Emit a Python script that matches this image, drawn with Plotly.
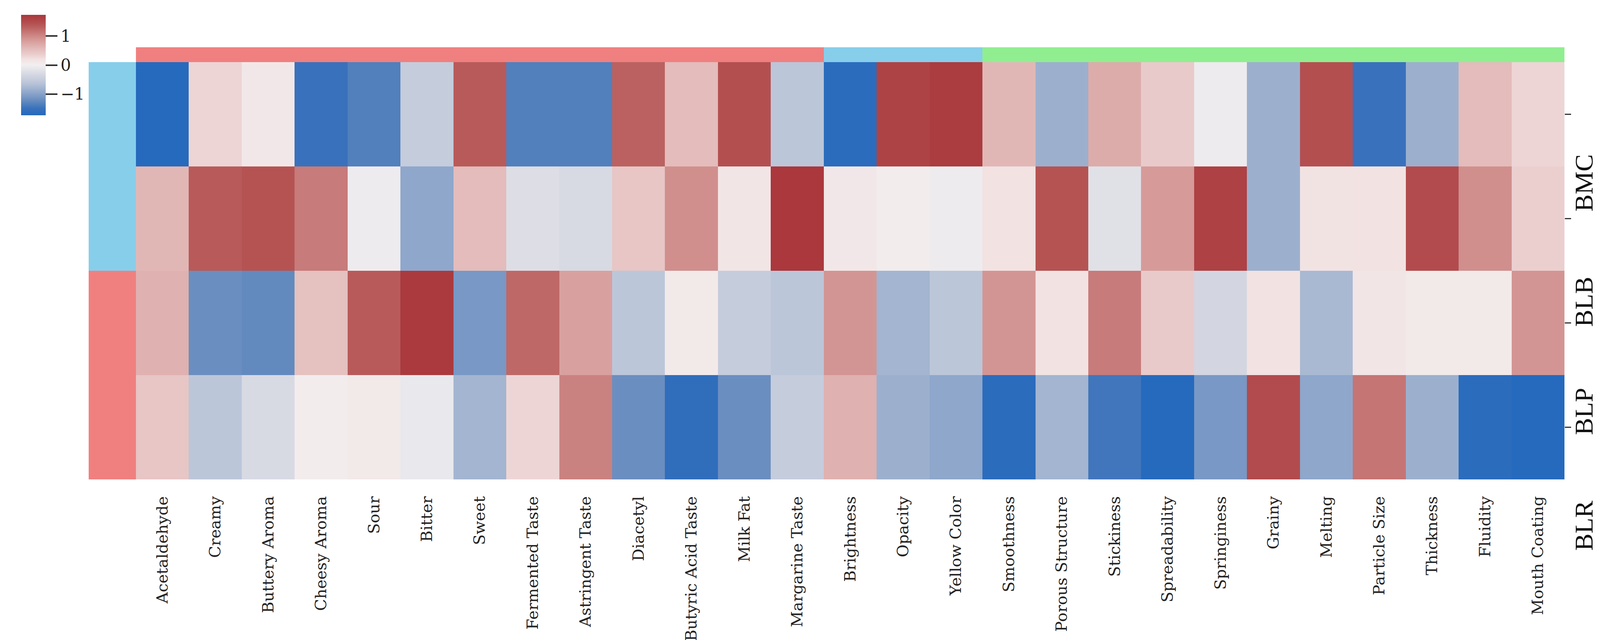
import plotly.graph_objects as go

# ---------------- data ----------------
rows = ["BMC", "BLB", "BLP", "BLR"]
attributes = ["Acetaldehyde", "Creamy", "Buttery Aroma", "Cheesy Aroma", "Sour", "Bitter",
              "Sweet", "Fermented Taste", "Astringent Taste", "Diacetyl", "Butyric Acid Taste",
              "Milk Fat", "Margarine Taste", "Brightness", "Opacity", "Yellow Color",
              "Smoothness", "Porous Structure", "Stickiness", "Spreadability", "Springiness",
              "Grainy", "Melting", "Particle Size", "Thickness", "Fluidity", "Mouth Coating"]

row1 = [-1.70, 0.30, 0.12, -1.50, -1.35, -0.50, 1.35, -1.35, -1.35, 1.30, 0.55, 1.45, -0.60,
        -1.65, 1.60, 1.68, 0.60, -0.85, 0.70, 0.40, -0.05, -0.85, 1.45, -1.50, -0.85, 0.55, 0.30]
row2 = [0.60, 1.35, 1.42, 1.10, -0.05, -0.95, 0.55, -0.25, -0.30, 0.45, 0.95, 0.15, 1.72,
        0.12, 0.05, -0.05, 0.20, 1.42, -0.20, 0.85, 1.62, -0.85, 0.18, 0.20, 1.50, 0.95, 0.35]
row3 = [0.65, -1.20, -1.25, 0.50, 1.35, 1.70, -1.10, 1.25, 0.80, -0.60, 0.10, -0.50, -0.60,
        0.90, -0.80, -0.60, 0.90, 0.20, 1.10, 0.40, -0.35, 0.20, -0.75, 0.15, 0.10, 0.10, 0.90]
row4 = [0.45, -0.60, -0.30, 0.05, 0.10, -0.10, -0.80, 0.30, 1.05, -1.20, -1.60, -1.20, -0.50,
        0.65, -0.85, -0.95, -1.65, -0.80, -1.45, -1.70, -1.10, 1.50, -0.95, 1.15, -0.85, -1.65, -1.70]
values = [row1, row2, row3, row4]

row_group = [1, 1, 0, 0]                       # 1 = sky blue group, 0 = coral group
col_group = [0] * 13 + [1] * 3 + [2] * 11      # 0 = coral, 1 = sky blue, 2 = light green
group_colors = ["#F08080", "#87CEEB", "#90EE90"]
cbar_ticks = [-1, 0, 1]

# ---------------- style ----------------
W, H = 4201, 1638
def px(x):
    return x / W
def py(y):
    return 1 - y / H

vlag = [
    [0.000, "#2369bd"], [0.067, "#3a71bc"], [0.110, "#5080bd"], [0.153, "#6a8ec0"],
    [0.226, "#8ea7cb"], [0.269, "#a3b5d0"], [0.327, "#bcc6d9"], [0.399, "#d3d6e1"],
    [0.500, "#f2eff0"], [0.558, "#f2e2e2"], [0.601, "#ebcfcf"], [0.659, "#e3bcbb"],
    [0.731, "#d8a19f"], [0.760, "#d39593"], [0.818, "#c77b7a"], [0.890, "#b85a5a"],
    [0.919, "#b44f50"], [1.000, "#a9373b"],
]
grp_scale = [[0.0, group_colors[0]], [0.5, group_colors[1]], [1.0, group_colors[2]]]
ZM = 1.735

fig = go.Figure()

fig.add_trace(go.Heatmap(
    z=values, x=attributes, y=rows, colorscale=vlag, zmin=-ZM, zmax=ZM,
    xaxis="x", yaxis="y", hoverinfo="z",
    colorbar=dict(x=px(46), xanchor="left", y=py(30), yanchor="top",
                  len=257 / H, lenmode="fraction", thickness=63, thicknessmode="pixels",
                  tickvals=cbar_ticks, ticks="outside", ticklen=30, tickwidth=4,
                  tickcolor="#333333", tickfont=dict(family="DejaVu Serif", size=42, color="#222222"),
                  outlinewidth=0, xpad=0, ypad=0),
))

# row group band
fig.add_trace(go.Heatmap(
    z=[[g] for g in row_group], x=["grp"], y=rows, colorscale=grp_scale, zmin=0, zmax=2,
    showscale=False, xaxis="x2", yaxis="y2", hoverinfo="skip",
))

# column group band
fig.add_trace(go.Heatmap(
    z=[col_group], x=attributes, y=["grp"], colorscale=grp_scale, zmin=0, zmax=2,
    showscale=False, xaxis="x3", yaxis="y3", hoverinfo="skip",
))

common = dict(showgrid=False, zeroline=False, showline=False)

fig.update_layout(
    width=W, height=H,
    margin=dict(l=0, r=0, t=0, b=0),
    paper_bgcolor="white", plot_bgcolor="white",
    xaxis=dict(domain=[px(340), px(3997)], anchor="y", tickangle=-90, ticks="",
               ticklabelstandoff=34,
               tickfont=dict(family="DejaVu Serif", size=40, color="#222222"), **common),
    yaxis=dict(domain=[py(1219), py(151)], anchor="x", side="right", autorange="reversed",
               ticks="outside", ticklen=16, tickwidth=3, tickcolor="#333333",
               showticklabels=False, **common),
    xaxis2=dict(domain=[px(219), px(340)], anchor="y2", showticklabels=False, ticks="", **common),
    yaxis2=dict(domain=[py(1219), py(151)], anchor="x2", autorange="reversed",
                showticklabels=False, ticks="", **common),
    xaxis3=dict(domain=[px(340), px(3997)], anchor="y3", matches="x", showticklabels=False,
                ticks="", **common),
    yaxis3=dict(domain=[py(151), py(113)], anchor="x3", showticklabels=False, ticks="", **common),
)

label_y = [460, 765, 1045, 1338]
for name, yc in zip(rows, label_y):
    fig.add_annotation(x=0.963, y=py(yc), xref="paper", yref="paper", text=name,
                       textangle=-90, showarrow=False, xanchor="center", yanchor="middle",
                       font=dict(family="Liberation Serif", size=66, color="#111111"))

fig.write_html("out.html")
